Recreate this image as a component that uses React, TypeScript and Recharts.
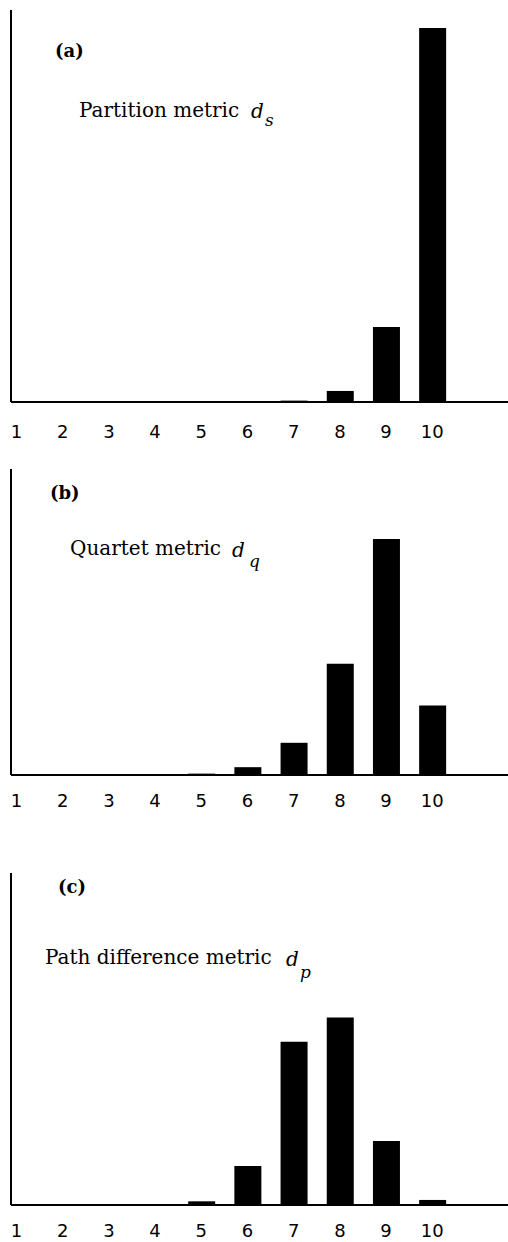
import { BarChart, Bar, XAxis, YAxis } from 'recharts';

const distances = [1, 2, 3, 4, 5, 6, 7, 8, 9, 10];
const partitionPct = [0, 0, 0, 0, 0, 0, 0.3, 2.4, 16.3, 81.3];
const quartetPct = [0, 0, 0, 0, 0.3, 1.7, 7.0, 24.2, 51.3, 15.1];
const pathPct = [0, 0, 0, 0, 0.8, 8.5, 35.5, 40.8, 13.9, 1.1];

const toRows = (vals: number[]) => distances.map((k, i) => ({ k, v: vals[i] }));

const serif = '"DejaVu Serif", "Liberation Serif", serif';
const sans = '"DejaVu Sans", "Liberation Sans", sans-serif';

interface PanelProps {
  values: number[];
  top: number;
  plotTop: number;
  plotBottom: number;
  bottom: number;
  yMax: number;
  tickGap: number;
}

function Panel({ values, top, plotTop, plotBottom, bottom, yMax, tickGap }: PanelProps) {
  return (
    <div style={{ position: 'absolute', left: 0, top }}>
      <BarChart
        width={508}
        height={bottom - top}
        data={toRows(values)}
        margin={{ top: plotTop - top, right: 0, bottom: 0, left: 0 }}
      >
        <XAxis
          dataKey="k"
          type="number"
          domain={[0.881, 11.64]}
          allowDataOverflow
          ticks={distances}
          interval={0}
          height={bottom - plotBottom}
          tickLine={false}
          tickSize={0}
          tickMargin={tickGap}
          axisLine={{ stroke: '#000', strokeWidth: 2 }}
          tick={{ fill: '#000', fontSize: 18, fontFamily: sans }}
        />
        <YAxis
          width={11}
          domain={[0, yMax]}
          allowDataOverflow
          tick={false}
          tickLine={false}
          axisLine={{ stroke: '#000', strokeWidth: 2 }}
        />
        <Bar dataKey="v" fill="#000" barSize={27} isAnimationActive={false} />
      </BarChart>
    </div>
  );
}

export default function App() {
  return (
    <div style={{ position: 'absolute', left: 0, top: 0, width: 508, height: 1242, background: '#fff' }}>
      <Panel values={partitionPct} top={0} plotTop={10} plotBottom={402} bottom={460} yMax={85.2} tickGap={23} />
      <Panel values={quartetPct} top={460} plotTop={469} plotBottom={775} bottom={860} yMax={66.5} tickGap={19} />
      <Panel values={pathPct} top={860} plotTop={873} plotBottom={1205} bottom={1242} yMax={72.2} tickGap={19} />
      <svg width={508} height={1242} style={{ position: 'absolute', left: 0, top: 0, pointerEvents: 'none' }}>
        <g fontFamily={serif} fill="#000">
          <text x={55} y={57} fontSize={18} fontWeight="bold">(a)</text>
          <text x={79} y={117} fontSize={20}>Partition metric</text>
          <text x={251} y={118} fontSize={20} fontStyle="italic">d</text>
          <text x={265} y={126} fontSize={17} fontStyle="italic">s</text>

          <text x={50} y={499} fontSize={18} fontWeight="bold">(b)</text>
          <text x={70} y={555} fontSize={20}>Quartet metric</text>
          <text x={232} y={557} fontSize={20} fontStyle="italic">d</text>
          <text x={249} y={567} fontSize={17} fontStyle="italic">q</text>

          <text x={58} y={893} fontSize={18} fontWeight="bold">(c)</text>
          <text x={45} y={964} fontSize={20}>Path difference metric</text>
          <text x={286} y={966} fontSize={20} fontStyle="italic">d</text>
          <text x={300} y={978} fontSize={17} fontStyle="italic">p</text>
        </g>
      </svg>
    </div>
  );
}
